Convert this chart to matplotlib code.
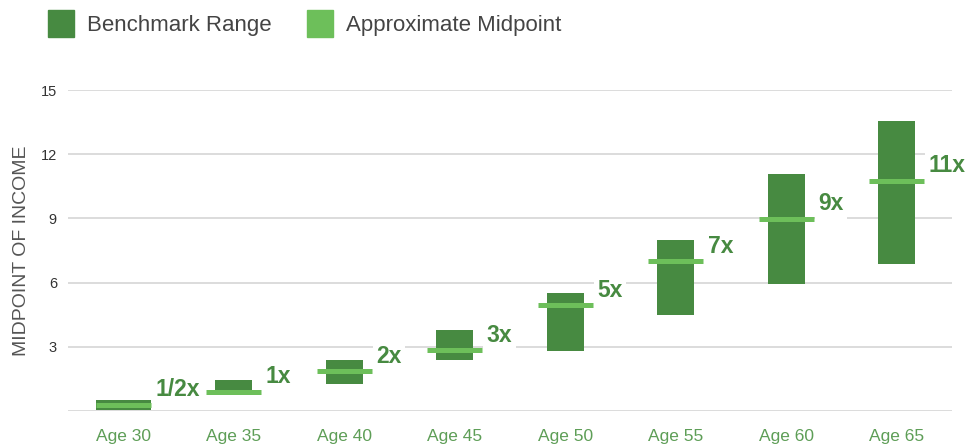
import numpy as np
import matplotlib.pyplot as plt
from matplotlib.patches import Patch

# benchmark ranges (multiple of income)
ages = ['Age 30', 'Age 35', 'Age 40', 'Age 45', 'Age 50', 'Age 55', 'Age 60', 'Age 65']
range_low = [0.05, 0.92, 1.28, 2.40, 2.82, 4.50, 5.95, 6.87]
range_high = [0.51, 1.45, 2.38, 3.79, 5.51, 7.99, 11.07, 13.55]
midpoints = [0.30, 0.89, 1.85, 2.83, 4.93, 6.99, 8.96, 10.77]
mid_labels = ['1/2x', '1x', '2x', '3x', '5x', '7x', '9x', '11x']

dark = '#478a41'
light = '#6dbf5a'

plt.rcParams['font.family'] = ['Liberation Sans', 'DejaVu Sans']

fig = plt.figure(figsize=(9.66, 4.45), dpi=100)
ax = fig.add_axes([68 / 966, 1 - 411 / 445, 884 / 966, 321 / 445])

x = np.arange(len(ages))
# first bar is drawn as wide as its midpoint marker
bar_w = np.where(x == 0, 0.5, 0.335)
ax.bar(x, np.array(range_high) - np.array(range_low), bottom=range_low,
       width=bar_w, color=dark, zorder=3)
ax.hlines(midpoints, x - 0.25, x + 0.25, color=light, linewidth=3.6, zorder=4)

for xi, m, lab in zip(x, midpoints, mid_labels):
    ax.annotate(lab, (xi + 0.25, m), xytext=(3, 11), textcoords='offset points',
                ha='left', va='center', fontsize=16.5, fontweight='bold', color=dark,
                zorder=5, bbox=dict(boxstyle='square,pad=0.15', fc='white', ec='none'))

ax.set_xlim(-0.5, len(ages) - 0.5)
ax.set_ylim(0, 15)
ax.set_yticks([0, 3, 6, 9, 12, 15])
ax.set_yticklabels(['', '3', '6', '9', '12', '15'])
ax.set_xticks(x)
ax.set_xticklabels(ages)
ax.tick_params(axis='y', length=0, pad=8, labelsize=10.5, labelcolor='#333333')
ax.tick_params(axis='x', length=0, pad=13, labelsize=12.5, labelcolor='#5e9e57')
ax.grid(axis='y', color='#dcdcdc', linewidth=1.4, zorder=0)
ax.set_axisbelow(True)
for s in ax.spines.values():
    s.set_visible(False)

ax.set_ylabel('MIDPOINT OF INCOME', fontsize=14, color='#555555', labelpad=8)

handles = [Patch(color=dark, label='Benchmark Range'),
           Patch(color=light, label='Approximate Midpoint')]
fig.legend(handles=handles, loc='upper left', bbox_to_anchor=(0.0286, 1.0225), ncol=2,
           frameon=False, fontsize=16, labelcolor='#444444',
           handlelength=1.2, handleheight=1.5, handletextpad=0.55, columnspacing=1.6)

fig.savefig('out.png', dpi=100)
